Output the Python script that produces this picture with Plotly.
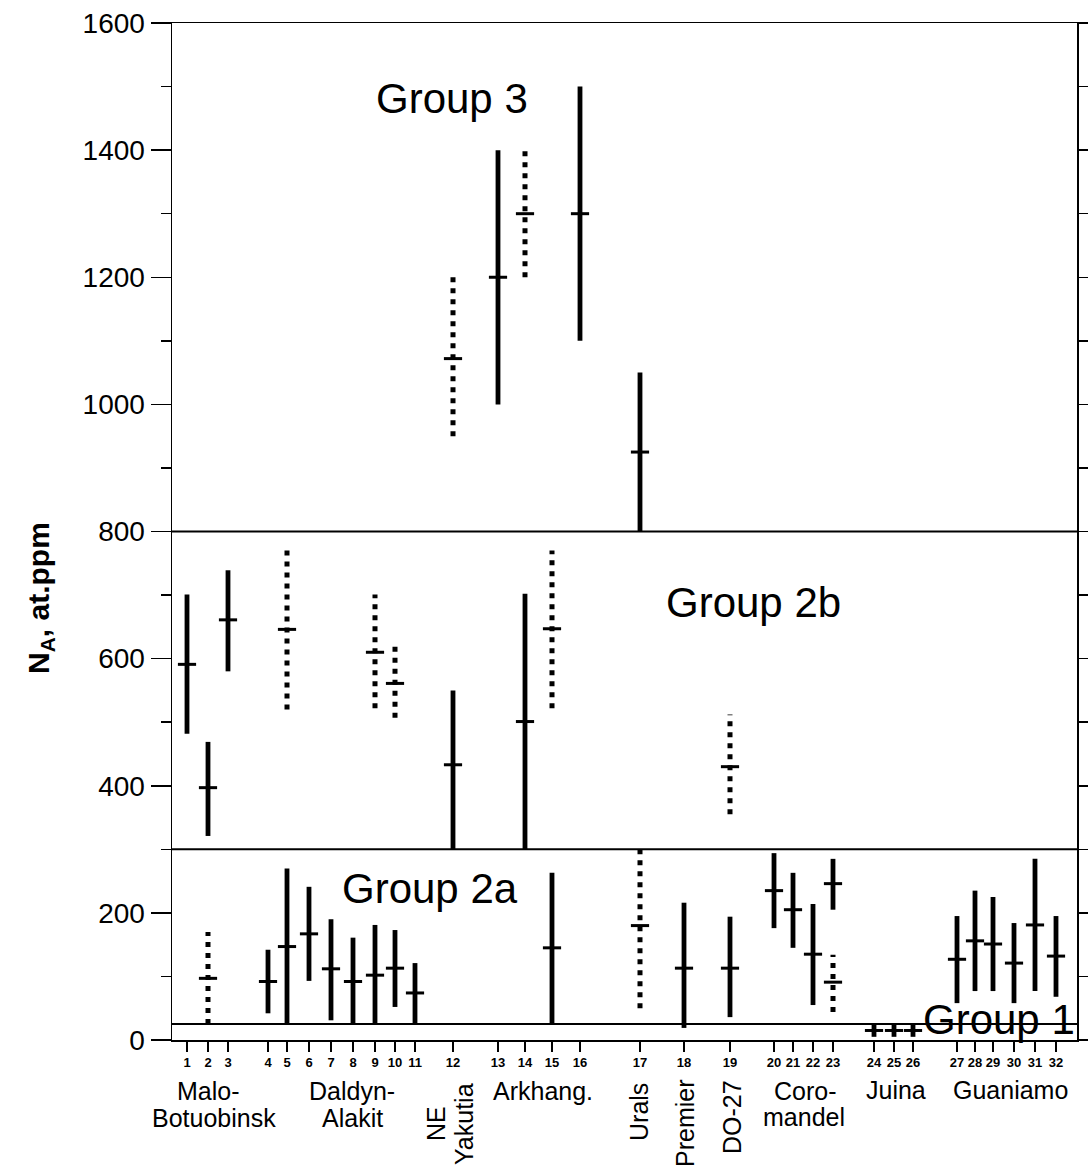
import plotly.graph_objects as go

FONT = "Liberation Sans, Arial, sans-serif"

# ---------------- data ----------------
sample_ids = list(range(1, 33))
# horizontal slot of each sample along the x axis (uneven spacing as in the original)
sample_x = [187, 208, 228, 268, 287, 309, 331, 353, 375, 395, 415, 453, 498, 525, 552, 580,
            640, 684, 730, 774, 793, 813, 833, 874, 894, 913, 957, 975, 993, 1014, 1035, 1056]

# Group 3
g3_samples = [12, 13, 14, 16, 17]
g3_low = [950, 1000, 1200, 1100, 800]
g3_mid = [1072, 1200, 1300, 1300, 925]
g3_high = [1200, 1400, 1400, 1500, 1050]
g3_dotted = [True, False, True, False, False]

# Group 2b
g2b_samples = [1, 2, 3, 5, 9, 10, 12, 14, 15, 19]
g2b_low = [482, 321, 580, 520, 522, 507, 300, 300, 522, 355]
g2b_mid = [591, 397, 661, 646, 610, 561, 433, 501, 647, 430]
g2b_high = [701, 469, 739, 770, 701, 620, 550, 702, 770, 512]
g2b_dotted = [False, False, False, True, True, True, False, False, True, True]

# Group 2a
g2a_samples = [2, 4, 5, 6, 7, 8, 9, 10, 11, 15, 17, 18, 19, 20, 21, 22, 23, 23, 27, 28, 29, 30, 31, 32]
g2a_low = [25, 42, 25, 93, 31, 25, 25, 52, 25, 25, 50, 19, 36, 176, 145, 55, 205, 44, 58, 77, 77, 58, 77, 68]
g2a_mid = [97, 92, 147, 167, 112, 92, 102, 113, 74, 145, 180, 113, 113, 235, 205, 135, 246, 91, 127, 156, 151, 121, 181, 132]
g2a_high = [170, 142, 270, 241, 190, 161, 181, 173, 121, 263, 302, 216, 194, 294, 263, 214, 285, 134, 195, 235, 225, 184, 285, 195]
g2a_dotted = [True, False, False, False, False, False, False, False, False, False, True, False, False,
              False, False, False, False, True, False, False, False, False, False, False]

# Group 1
g1_samples = [24, 25, 26]
g1_low = [5, 5, 5]
g1_mid = [15, 15, 15]
g1_high = [25, 25, 25]

# group boundaries (at.ppm)
group_bounds = [800, 300, 25]

group_names = ["Group 3", "Group 2b", "Group 2a", "Group 1"]
group_label_x = [452, 753, 430, 999]
group_label_y = [1482, 688, 238, 32]

# locality labels (horizontal): text, x, pixel row
loc_h_text = ["Malo-", "Botuobinsk", "Daldyn-", "Alakit", "Arkhang.", "Coro-", "mandel", "Juina", "Guaniamo"]
loc_h_x = [208, 214, 352, 352, 543, 805, 804, 896, 1010]
loc_h_row = [1091, 1118, 1091, 1118, 1091, 1091, 1117, 1090, 1090]
# locality labels (vertical)
loc_v_text = ["NE", "Yakutia", "Urals", "Premier", "DO-27"]
loc_v_x = [436, 464, 639, 685, 732]
loc_v_row = [1124, 1124, 1112, 1123, 1117]

# ---------------- figure ----------------
fig = go.Figure()

pos = dict(zip(sample_ids, sample_x))
all_s = g3_samples + g2b_samples + g2a_samples + g1_samples
all_lo = g3_low + g2b_low + g2a_low + g1_low
all_mid = g3_mid + g2b_mid + g2a_mid + g1_mid
all_hi = g3_high + g2b_high + g2a_high + g1_high
all_dot = g3_dotted + g2b_dotted + g2a_dotted + [False] * len(g1_samples)

sx, sy, dx, dy = [], [], [], []
for s, lo, hi, d in zip(all_s, all_lo, all_hi, all_dot):
    if d:
        dx += [pos[s], pos[s], None]
        dy += [lo, hi, None]
    else:
        sx += [pos[s], pos[s], None]
        sy += [lo, hi, None]

fig.add_trace(go.Scatter(x=sx, y=sy, mode="lines", line=dict(color="black", width=4.8),
                         hoverinfo="skip", cliponaxis=False))
fig.add_trace(go.Scatter(x=dx, y=dy, mode="lines", line=dict(color="black", width=5, dash="5px,6px"),
                         hoverinfo="skip", cliponaxis=False))
fig.add_trace(go.Scatter(x=[pos[s] for s in all_s], y=all_mid, mode="markers",
                         marker=dict(symbol="line-ew", size=13, line=dict(color="black", width=3)),
                         hoverinfo="skip", cliponaxis=False))

for b in group_bounds:
    fig.add_shape(type="line", xref="paper", x0=0, x1=1, yref="y", y0=b, y1=b,
                  line=dict(color="black", width=2))

for t, x, y in zip(group_names, group_label_x, group_label_y):
    fig.add_annotation(text=t, x=x, y=y, xref="x", yref="y", showarrow=False,
                       font=dict(family=FONT, size=42, color="black"),
                       xanchor="center", yanchor="middle")

PLOT_TOP, PLOT_BOTTOM = 23, 1040


def row_to_paper(py):
    return (PLOT_BOTTOM - py) / (PLOT_BOTTOM - PLOT_TOP)


for t, x, r in zip(loc_h_text, loc_h_x, loc_h_row):
    fig.add_annotation(text=t, x=x, y=row_to_paper(r), xref="x", yref="paper", showarrow=False,
                       font=dict(family=FONT, size=25, color="black"),
                       xanchor="center", yanchor="middle")
for t, x, r in zip(loc_v_text, loc_v_x, loc_v_row):
    fig.add_annotation(text=t, x=x, y=row_to_paper(r), xref="x", yref="paper", showarrow=False,
                       textangle=-90, font=dict(family=FONT, size=25, color="black"),
                       xanchor="center", yanchor="middle")

fig.add_annotation(text="N<sub>A</sub>, at.ppm", x=(40 - 172) / 905, y=row_to_paper(598),
                   xref="paper", yref="paper", showarrow=False, textangle=-90,
                   font=dict(family=FONT, size=30, color="black", weight="bold"),
                   xanchor="center", yanchor="middle")

fig.update_xaxes(range=[172, 1077], tickmode="array", tickvals=sample_x,
                 ticktext=[str(i) for i in sample_ids], tickangle=0, automargin=False,
                 ticks="outside", ticklen=10, tickwidth=1.5, tickcolor="black",
                 showline=True, linewidth=1.5, linecolor="black", mirror=True,
                 showgrid=False, zeroline=False,
                 tickfont=dict(family=FONT, size=13, color="black", weight="bold"))
fig.update_yaxes(range=[0, 1600], tickmode="linear", tick0=0, dtick=200, automargin=False,
                 ticks="outside", ticklen=20, tickwidth=1.5, tickcolor="black",
                 minor=dict(dtick=100, ticks="outside", ticklen=10, tickwidth=1.5, tickcolor="black"),
                 showline=True, linewidth=1.5, linecolor="black", mirror="ticks",
                 showgrid=False, zeroline=False, ticklabelstandoff=0,
                 tickfont=dict(family=FONT, size=28, color="black"))

fig.update_layout(template="none", width=1088, height=1169, autosize=False,
                  margin=dict(l=172, r=11, t=23, b=129, autoexpand=False),
                  plot_bgcolor="white", paper_bgcolor="white", showlegend=False,
                  hovermode=False)

fig.write_html("out.html", config={"displayModeBar": False, "staticPlot": True},
               post_script="document.body.style.margin='0';document.body.style.overflow='hidden';")
